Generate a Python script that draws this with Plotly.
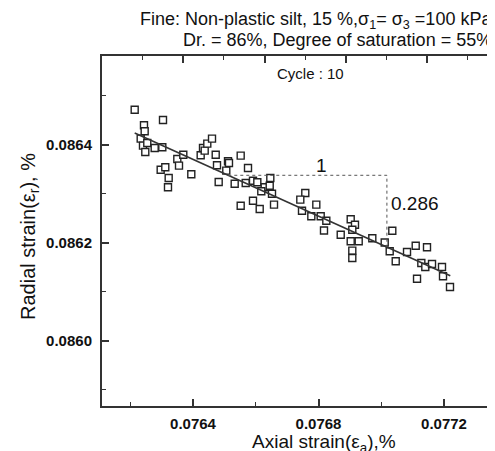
import numpy as np
import plotly.graph_objects as go

# ---- data ----
axial_strain = [
    0.0762142, 0.0762438, 0.0762460, 0.0763044, 0.0762333, 0.0762406, 0.0762480, 0.0762543,
    0.0762779, 0.0763022, 0.0762970, 0.0763117, 0.0763225, 0.0763203, 0.0763500, 0.0763554,
    0.0763691, 0.0763946, 0.0764245, 0.0764319, 0.0764373, 0.0764456, 0.0764606, 0.0764724,
    0.0764765, 0.0764819, 0.0765061, 0.0765116, 0.0765147, 0.0765329, 0.0765520, 0.0765753,
    0.0765680, 0.0765912, 0.0766050, 0.0766285, 0.0766464, 0.0766445, 0.0766177, 0.0766518,
    0.0765520, 0.0765912, 0.0766126, 0.0766582, 0.0767579, 0.0767420, 0.0767474, 0.0767930,
    0.0767771, 0.0768070, 0.0768249, 0.0768175, 0.0768708, 0.0769026, 0.0769163, 0.0769077,
    0.0769026, 0.0769281, 0.0769715, 0.0770110, 0.0770352, 0.0769077, 0.0769077, 0.0770269,
    0.0770461, 0.0770821, 0.0771098, 0.0771458, 0.0771277, 0.0771404, 0.0771618, 0.0771936,
    0.0771968, 0.0771140, 0.0772191,
]
radial_strain = [
    0.0864720, 0.0864402, 0.0864280, 0.0864510, 0.0864129, 0.0863986, 0.0863857, 0.0864041,
    0.0863939, 0.0863953, 0.0863496, 0.0863545, 0.0863327, 0.0863137, 0.0863714, 0.0863578,
    0.0863802, 0.0863402, 0.0863790, 0.0863939, 0.0863884, 0.0864027, 0.0864129, 0.0863802,
    0.0863586, 0.0863245, 0.0863476, 0.0863667, 0.0863633, 0.0863210, 0.0863782, 0.0863531,
    0.0863224, 0.0863271, 0.0863239, 0.0863137, 0.0863327, 0.0863169, 0.0863055, 0.0863006,
    0.0862761, 0.0862863, 0.0862694, 0.0862782, 0.0863020, 0.0862884, 0.0862659, 0.0862782,
    0.0862545, 0.0862545, 0.0862455, 0.0862255, 0.0862169, 0.0862484, 0.0862373, 0.0862271,
    0.0862035, 0.0862035, 0.0862096, 0.0862010, 0.0862251, 0.0861843, 0.0861694, 0.0861831,
    0.0861627, 0.0861816, 0.0861945, 0.0861912, 0.0861592, 0.0861510, 0.0861571, 0.0861510,
    0.0861320, 0.0861271, 0.0861102,
]

fit_x = [0.0762142, 0.0772200]
fit_y = [0.0864245, 0.0861333]
slope_x = [0.0765125, 0.0770180]   # extent of the slope triangle
slope_label = "0.286"
run_label = "1"

x_ticks = [0.0764, 0.0768, 0.0772]
x_minor = [0.0762, 0.0766, 0.0770, 0.0774]
y_ticks = [0.0860, 0.0862, 0.0864]
y_minor = [0.0859, 0.0861, 0.0863, 0.0865]

title_line1 = "Fine: Non-plastic silt, 15 %,σ<sub>1</sub>= σ<sub>3</sub> =100 kPa"
title_line2 = "Dr. = 86%, Degree of saturation = 55%"
cycle_text = "Cycle : 10"
x_title = "Axial strain(ε<sub>a</sub>),%"
y_title = "Radial strain(ε<sub>r</sub>), %"

FONT = "Liberation Sans, Arial, sans-serif"
AX = "#333333"

# triangle built from the fit line
tri_y_top = float(np.interp(slope_x[0], fit_x, fit_y))
tri_y_bot = float(np.interp(slope_x[1], fit_x, fit_y))

fig = go.Figure()

fig.add_trace(go.Scatter(
    x=axial_strain, y=radial_strain, mode="markers",
    marker=dict(symbol="square", size=7, color="white",
                line=dict(color="#222222", width=1.4)),
    hoverinfo="skip", showlegend=False))

fig.add_trace(go.Scatter(
    x=fit_x, y=fit_y, mode="lines",
    line=dict(color="#333333", width=1.6), hoverinfo="skip", showlegend=False))

fig.add_trace(go.Scatter(
    x=[slope_x[0], slope_x[1], slope_x[1]],
    y=[tri_y_top, tri_y_top, tri_y_bot], mode="lines",
    line=dict(color="#555555", width=1, dash="dot"),
    hoverinfo="skip", showlegend=False))

# dummy trace so the top axis is drawn
fig.add_trace(go.Scatter(x=[0], y=[None], xaxis="x2", mode="markers",
                         hoverinfo="skip", showlegend=False))

fig.update_layout(
    width=495, height=451,
    margin=dict(l=94, r=0, t=48, b=53),
    paper_bgcolor="white", plot_bgcolor="white",
    font=dict(family=FONT, color="#111111"),
    showlegend=False,
    xaxis=dict(
        range=[0.07611, 0.077388], tickvals=x_ticks, tickformat=".4f",
        ticks="inside", ticklen=7, tickwidth=1.5, tickcolor=AX,
        showline=True, linecolor=AX, linewidth=1.5, mirror=False,
        showgrid=False, zeroline=False, ticklabelstandoff=3,
        tickfont=dict(size=15, weight="bold", family=FONT, color="#111111"),
        minor=dict(tickvals=x_minor, ticks="inside", ticklen=4,
                   tickwidth=1.2, tickcolor=AX, showgrid=False),
    ),
    xaxis2=dict(
        overlaying="x", side="top", anchor="y", range=[0, 401 / 40.65],
        tick0=0, dtick=2, ticks="inside", ticklen=7, tickwidth=1.5, tickcolor=AX,
        showticklabels=False, showline=True, linecolor=AX, linewidth=1.5,
        showgrid=False, zeroline=False,
        minor=dict(dtick=1, ticks="inside", ticklen=4, tickwidth=1.2,
                   tickcolor=AX, showgrid=False),
    ),
    yaxis=dict(
        range=[0.0858673, 0.0865816], tickvals=y_ticks, tickformat=".4f",
        ticks="inside", ticklen=7, tickwidth=1.5, tickcolor=AX,
        showline=True, linecolor=AX, linewidth=2, mirror=False,
        showgrid=False, zeroline=False, ticklabelstandoff=5,
        tickfont=dict(size=15, weight="bold", family=FONT, color="#111111"),
        minor=dict(tickvals=y_minor, ticks="inside", ticklen=4,
                   tickwidth=1.2, tickcolor=AX, showgrid=False),
    ),
)

ann = [
    dict(text=title_line1, x=(486 - 94) / 401, y=(398 - 13) / 350,
         xanchor="right", yanchor="middle", font=dict(size=18)),
    dict(text=title_line2, x=(486 - 94) / 401, y=(398 - 32) / 350,
         xanchor="right", yanchor="middle", font=dict(size=18)),
    dict(text=cycle_text, x=(302 - 94) / 401, y=(398 - 66) / 350,
         xanchor="center", yanchor="middle", font=dict(size=15)),
    dict(text=run_label, x=(313 - 94) / 401, y=(398 - 157) / 350,
         xanchor="center", yanchor="middle", font=dict(size=19)),
    dict(text=slope_label, x=(381 - 94) / 401, y=(398 - 195) / 350,
         xanchor="left", yanchor="middle", font=dict(size=19)),
    dict(text=x_title, x=(316 - 94) / 401, y=(398 - 435) / 350,
         xanchor="center", yanchor="middle", font=dict(size=19)),
    dict(text=y_title, x=(21 - 94) / 401, y=(398 - 229) / 350, textangle=-90,
         xanchor="center", yanchor="middle", font=dict(size=20)),
]
for a in ann:
    a.update(xref="paper", yref="paper", showarrow=False)
    fig.add_annotation(**a)

fig.write_html("out.html")
